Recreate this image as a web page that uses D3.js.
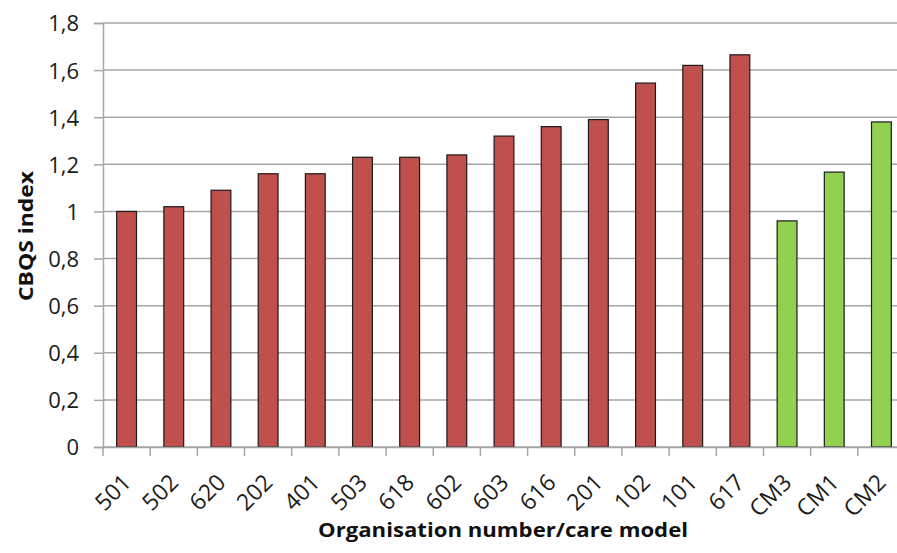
<!DOCTYPE html>
<html><head><meta charset="utf-8">
<script src="https://cdn.jsdelivr.net/npm/d3@7"></script>
<style>body{margin:0;background:#fff}svg{display:block}</style>
</head><body>
<svg id="c" width="897" height="553"></svg>
<script>
const categories = ["501","502","620","202","401","503","618","602","603","616","201","102","101","617","CM3","CM1","CM2"];
const values = [1.00,1.02,1.09,1.16,1.16,1.23,1.23,1.24,1.32,1.36,1.39,1.545,1.62,1.665,0.96,1.167,1.38];
const groups = ["org","org","org","org","org","org","org","org","org","org","org","org","org","org","cm","cm","cm"];
const yTicks = [0,0.2,0.4,0.6,0.8,1,1.2,1.4,1.6,1.8];
const yTickLabels = ["0","0,2","0,4","0,6","0,8","1","1,2","1,4","1,6","1,8"];
const colors = {org:"#C0504D", cm:"#92D050"};

const svg = d3.select("#c");
const mLeft = 103, mRight = 905, mTop = 23, mBottom = 447;
const x = d3.scaleBand().domain(categories).range([mLeft, mRight]).paddingInner(0).paddingOuter(0);
const y = d3.scaleLinear().domain([0,1.8]).range([mBottom, mTop]);
const font = "'Open Sans', sans-serif";

// gridlines
svg.append("g").selectAll("line").data(yTicks).join("line")
  .attr("x1", mLeft).attr("x2", 897)
  .attr("y1", d=>y(d)).attr("y2", d=>y(d))
  .attr("stroke", "#a6a6a6").attr("stroke-width", 1.5);

// y axis
const yAxis = d3.axisLeft(y).tickValues(yTicks).tickSize(9).tickFormat((d,i)=>yTickLabels[i]);
const ga = svg.append("g").attr("transform", `translate(${mLeft},0)`).call(yAxis);
ga.attr("font-size", null).attr("font-family", null);
ga.select(".domain").attr("stroke","#a6a6a6").attr("stroke-width",1.5);
ga.selectAll(".tick line").attr("stroke","#a6a6a6").attr("stroke-width",1.5);
ga.selectAll("text").style("font-family", font).style("font-size", "22px").attr("fill","#1a1a1a").attr("x",-24).attr("dy","0.36em");

// bars
const bw = x.bandwidth()*0.42;
svg.append("g").selectAll("rect").data(values).join("rect")
  .attr("x", (d,i)=>x(categories[i]) + (x.bandwidth()-bw)/2)
  .attr("y", d=>y(d))
  .attr("width", bw)
  .attr("height", d=>mBottom - y(d))
  .attr("fill", (d,i)=>colors[groups[i]])
  .attr("stroke", "#1a1a1a").attr("stroke-width", 1.2);

// x axis
const xAxis = d3.axisBottom(x).tickSize(0).tickFormat(d=>d);
const gx = svg.append("g").attr("transform", `translate(0,${mBottom})`).call(xAxis);
gx.attr("font-size", null).attr("font-family", null);
gx.select(".domain").attr("stroke","#a6a6a6").attr("stroke-width",1.5);
gx.selectAll("text").style("font-family", font).style("font-size", "23px").attr("fill","#1a1a1a")
  .attr("text-anchor","end").attr("dy",0).attr("y",0)
  .attr("transform","translate(6,37) rotate(-45)");
// x tick marks at band boundaries
svg.append("g").selectAll("line").data(categories).join("line")
  .attr("x1", d=>x(d)).attr("x2", d=>x(d))
  .attr("y1", mBottom).attr("y2", mBottom+9)
  .attr("stroke","#a6a6a6").attr("stroke-width",1.5);

// titles
svg.append("text").attr("x", 503).attr("y", 537).attr("text-anchor","middle")
  .attr("font-family", font).attr("font-weight","bold").attr("font-size",20).attr("fill","#111")
  .attr("textLength", 370).attr("lengthAdjust","spacingAndGlyphs")
  .text("Organisation number/care model");
svg.append("text").attr("transform","translate(33,236) rotate(-90)").attr("text-anchor","middle")
  .attr("font-family", font).attr("font-weight","bold").attr("font-size",20).attr("fill","#111")
  .attr("textLength", 130).attr("lengthAdjust","spacingAndGlyphs")
  .text("CBQS index");
</script>
</body></html>
